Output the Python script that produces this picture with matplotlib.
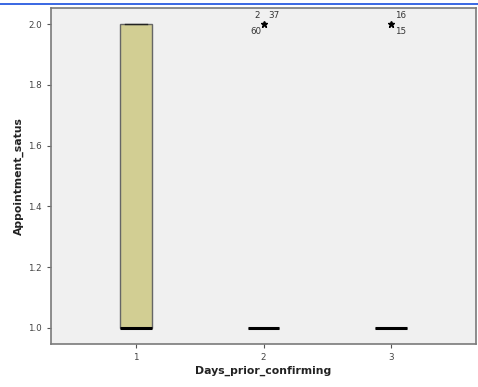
import numpy as np
import matplotlib.pyplot as plt

days = [1, 2, 3]
q1 = [1.0, 1.0, 1.0]
med = [1.0, 1.0, 1.0]
q3 = [2.0, 1.0, 1.0]
whis_lo = [1.0, 1.0, 1.0]
whis_hi = [2.0, 1.0, 1.0]
outliers = [[], [2.0], [2.0]]
outlier_cases = [[], ["2", "37", "60"], ["16", "15"]]

fig = plt.figure(figsize=(4.78, 3.87), dpi=100)
ax = fig.add_axes([51 / 478, 1 - 344 / 387, 425 / 478, 336 / 387])
ax.set_facecolor("#f0f0f0")

# blue rule across the top
fig.add_artist(plt.Line2D([0, 1], [1 - 4 / 387] * 2, color="#2a5ce0", lw=1.3,
                          transform=fig.transFigure))

stats = []
for i in range(len(days)):
    stats.append({"med": med[i], "q1": q1[i], "q3": q3[i],
                  "whislo": whis_lo[i], "whishi": whis_hi[i],
                  "fliers": outliers[i]})

ax.bxp(stats, positions=days, widths=0.25, patch_artist=True, showcaps=True,
       capwidths=0.18,
       boxprops=dict(facecolor="#d2ce93", edgecolor="#666666", lw=1.0),
       medianprops=dict(color="black", lw=2.2, solid_capstyle="butt"),
       whiskerprops=dict(color="#333333", lw=1.0),
       capprops=dict(color="#222222", lw=1.0),
       flierprops=dict(marker="*", markerfacecolor="black", markeredgecolor="black",
                       markersize=5))

# case labels next to outliers (offsets in points)
offsets = {"2": (-4.5, 6.5), "37": (7.5, 6.5), "60": (-5.5, -5.5),
           "16": (7, 6), "15": (7, -5.5)}
for i, d in enumerate(days):
    for v in outliers[i]:
        for lab in outlier_cases[i]:
            ax.annotate(lab, (d, v), xytext=offsets[lab], textcoords="offset points",
                        ha="center", va="center", fontsize=6.3, color="#333333")

ax.set_xlim(1 / 3, 11 / 3)
ax.set_ylim(1 - 16 / 303, 2 + 16 / 303)
ax.set_xticks(days)
ax.set_xticklabels([str(d) for d in days])
ax.set_yticks(np.arange(1.0, 2.01, 0.2))
ax.set_yticklabels(["%.1f" % t for t in np.arange(1.0, 2.01, 0.2)])
ax.tick_params(labelsize=6.3, labelcolor="#444444", color="#555555", length=3, width=0.8)

for s in ax.spines.values():
    s.set_color("#7a7a7a")
    s.set_linewidth(1.2)

ax.set_xlabel("Days_prior_confirming", fontsize=7.8, fontweight="bold", color="#222222", labelpad=3)
ax.set_ylabel("Appointment_satus", fontsize=7.8, fontweight="bold", color="#222222", labelpad=3)

fig.savefig("out.png", dpi=100)
